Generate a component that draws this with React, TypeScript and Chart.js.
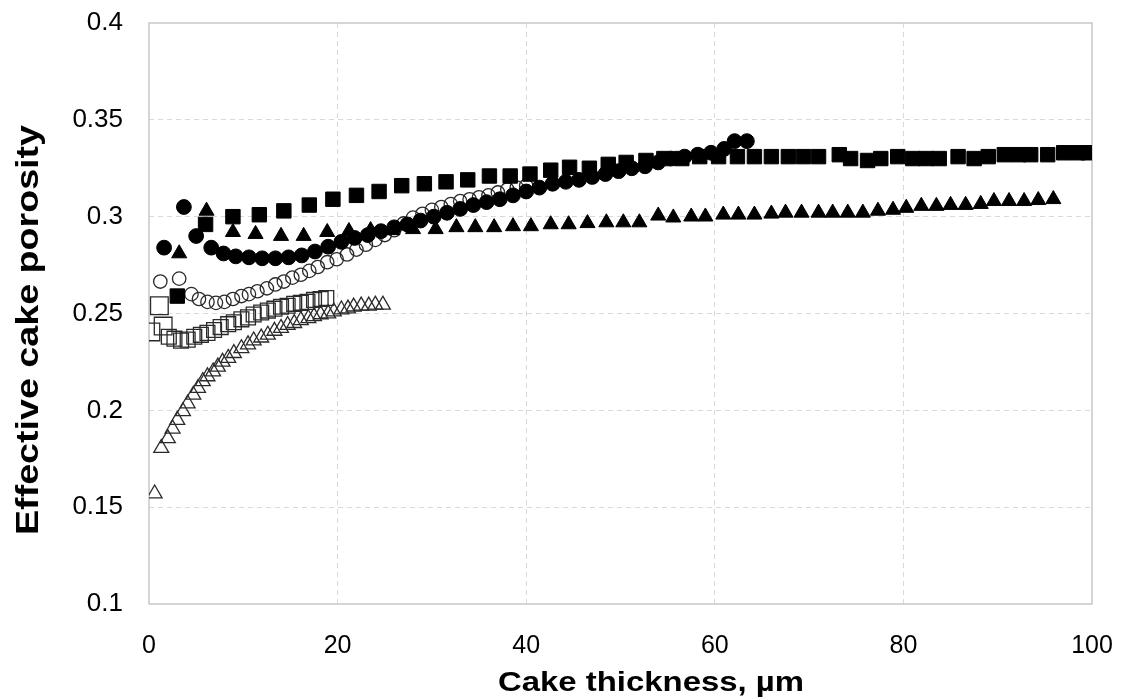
import React, { useEffect, useRef } from 'react';
import { Chart, registerables } from 'chart.js';

Chart.register(...registerables);

const xTitle = 'Cake thickness, µm';
const yTitle = 'Effective cake porosity';
const xTicks = [0, 20, 40, 60, 80, 100];
const yTicks = [0.1, 0.15, 0.2, 0.25, 0.3, 0.35, 0.4];

// Filled squares
const fsX = [3.0, 6.0, 8.9, 11.7, 14.3, 17.0, 19.5, 22.0, 24.4, 26.8, 29.2, 31.5, 33.8, 36.1, 38.3, 40.4, 42.6, 44.6, 46.7, 48.7, 50.6, 52.7, 54.6, 56.5, 58.4, 60.4, 62.4, 64.2, 66.0, 67.8, 69.4, 71.0, 73.2, 74.4, 76.2, 77.6, 79.4, 81.0, 82.4, 83.8, 85.8, 87.5, 89.0, 90.7, 92.2, 93.5, 95.3, 97.0, 98.5, 99.6];
const fsY = [0.259, 0.296, 0.300, 0.301, 0.303, 0.306, 0.309, 0.311, 0.313, 0.316, 0.317, 0.318, 0.319, 0.321, 0.321, 0.322, 0.324, 0.3255, 0.325, 0.327, 0.328, 0.329, 0.330, 0.330, 0.331, 0.331, 0.331, 0.331, 0.331, 0.331, 0.331, 0.331, 0.332, 0.330, 0.329, 0.330, 0.331, 0.330, 0.330, 0.330, 0.331, 0.330, 0.331, 0.332, 0.332, 0.332, 0.332, 0.333, 0.333, 0.333];

// Filled triangles
const ftX = [3.2, 6.1, 8.9, 11.3, 14.0, 16.4, 18.9, 21.2, 23.5, 25.8, 28.0, 30.4, 32.6, 34.6, 36.6, 38.6, 40.5, 42.6, 44.5, 46.5, 48.5, 50.3, 52.0, 54.0, 55.6, 57.5, 59.0, 60.9, 62.5, 64.2, 66.0, 67.5, 69.2, 71.0, 72.5, 74.1, 75.7, 77.3, 78.9, 80.3, 81.9, 83.5, 85.0, 86.6, 88.2, 89.6, 91.2, 92.8, 94.3, 95.9];
const ftY = [0.281, 0.303, 0.292, 0.291, 0.290, 0.290, 0.292, 0.2925, 0.293, 0.293, 0.2935, 0.2935, 0.2945, 0.2945, 0.2945, 0.295, 0.295, 0.296, 0.296, 0.2966, 0.297, 0.297, 0.297, 0.3005, 0.2995, 0.300, 0.300, 0.301, 0.301, 0.301, 0.3015, 0.302, 0.302, 0.302, 0.302, 0.302, 0.302, 0.303, 0.3035, 0.3045, 0.3055, 0.3055, 0.306, 0.306, 0.3065, 0.308, 0.308, 0.308, 0.3085, 0.309];

// Filled circles
const fcX = [1.6, 3.7, 5.0, 6.6, 7.9, 9.2, 10.6, 12.0, 13.4, 14.8, 16.2, 17.6, 19.0, 20.4, 21.8, 23.2, 24.6, 26.0, 27.4, 28.8, 30.2, 31.6, 33.0, 34.4, 35.8, 37.2, 38.6, 40.0, 41.4, 42.8, 44.2, 45.6, 47.0, 48.4, 49.8, 51.2, 52.6, 54.0, 55.4, 56.8, 58.2, 59.6, 61.0, 62.1, 63.4];
const fcY = [0.284, 0.305, 0.290, 0.284, 0.281, 0.2795, 0.279, 0.2785, 0.2785, 0.279, 0.280, 0.282, 0.2845, 0.287, 0.289, 0.2905, 0.2925, 0.2945, 0.296, 0.298, 0.300, 0.302, 0.304, 0.306, 0.3075, 0.309, 0.311, 0.313, 0.315, 0.317, 0.318, 0.319, 0.3205, 0.322, 0.3235, 0.325, 0.326, 0.328, 0.330, 0.331, 0.332, 0.333, 0.335, 0.339, 0.339];

// Open circles
const ocX = [1.2, 3.2, 4.5, 5.3, 6.2, 7.1, 8.0, 8.9, 9.8, 10.6, 11.5, 12.5, 13.4, 14.3, 15.2, 16.1, 17.0, 17.9, 18.9, 19.9, 21.0, 22.0, 23.0, 24.0, 25.0, 26.0, 27.0, 28.0, 29.0, 30.0, 31.0, 32.0, 33.0, 34.0, 35.0, 36.0, 37.0, 38.0, 39.0, 40.0];
const ocY = [0.2665, 0.268, 0.260, 0.2575, 0.256, 0.2555, 0.256, 0.2575, 0.259, 0.260, 0.2615, 0.263, 0.265, 0.2665, 0.2685, 0.270, 0.272, 0.274, 0.2765, 0.278, 0.2805, 0.283, 0.2855, 0.288, 0.2905, 0.293, 0.2965, 0.2995, 0.3015, 0.3035, 0.305, 0.3065, 0.308, 0.309, 0.310, 0.311, 0.3125, 0.314, 0.315, 0.316];

// Open squares
const osX = [0.2, 1.1, 1.5, 2.1, 2.7, 3.4, 4.1, 4.8, 5.5, 6.2, 6.9, 7.6, 8.4, 9.0, 9.8, 10.5, 11.1, 11.9, 12.6, 13.3, 14.0, 14.7, 15.4, 16.1, 16.8, 17.5, 18.2, 18.8];
const osY = [0.2405, 0.254, 0.2435, 0.238, 0.237, 0.236, 0.2365, 0.238, 0.239, 0.240, 0.2415, 0.243, 0.2445, 0.2455, 0.247, 0.248, 0.2495, 0.2505, 0.2515, 0.2525, 0.2535, 0.254, 0.255, 0.2555, 0.256, 0.257, 0.2575, 0.258];

// Open triangles
const otX = [0.6, 1.3, 2.0, 2.5, 3.0, 3.6, 4.1, 4.7, 5.2, 5.7, 6.2, 6.8, 7.3, 7.8, 8.4, 9.0, 9.8, 10.5, 11.1, 11.9, 12.6, 13.3, 14.0, 14.7, 15.4, 16.1, 16.9, 17.5, 18.2, 19.0, 19.6, 20.4, 21.1, 21.7, 22.5, 23.3, 24.0, 24.8];
const otY = [0.157, 0.1805, 0.1855, 0.1905, 0.195, 0.1995, 0.2035, 0.208, 0.2115, 0.215, 0.2175, 0.220, 0.2225, 0.225, 0.227, 0.2295, 0.232, 0.234, 0.236, 0.2375, 0.239, 0.241, 0.2425, 0.244, 0.245, 0.2465, 0.2475, 0.2485, 0.2495, 0.250, 0.251, 0.252, 0.2525, 0.2535, 0.254, 0.254, 0.2545, 0.2545];

const pts = (xs: number[], ys: number[]) => xs.map((x, i) => ({ x, y: ys[i] }));

const PLOT_LEFT = 149;
const PLOT_TOP = 23;
const PLOT_RIGHT_PAD = 34;
const X_AXIS_H = 96;

const framePlugin = {
  id: 'frame',
  beforeDatasetsDraw(chart: any) {
    const { ctx, chartArea: a } = chart;
    ctx.save();
    ctx.strokeStyle = '#c8c8c8';
    ctx.lineWidth = 1.5;
    ctx.strokeRect(a.left, a.top, a.right - a.left, a.bottom - a.top);
    ctx.restore();
  },
  afterDraw(chart: any) {
    const ctx = chart.ctx;
    ctx.save();
    ctx.fillStyle = '#000';
    ctx.textAlign = 'center';
    ctx.textBaseline = 'alphabetic';
    ctx.font = 'bold 28px "Liberation Sans", Arial, sans-serif';
    let w = ctx.measureText(xTitle).width;
    ctx.save();
    ctx.translate(651, 691);
    ctx.scale(306 / w, 1);
    ctx.fillText(xTitle, 0, 0);
    ctx.restore();
    ctx.font = 'bold 31px "Liberation Sans", Arial, sans-serif';
    w = ctx.measureText(yTitle).width;
    ctx.save();
    ctx.translate(38, 330);
    ctx.rotate(-Math.PI / 2);
    ctx.scale(410 / w, 1);
    ctx.fillText(yTitle, 0, 0);
    ctx.restore();
    ctx.restore();
  },
};

const edgeTransparent = (min: number, max: number) => (c: any) => {
  const v = c.tick ? c.tick.value : null;
  if (v === null) return '#d9d9d9';
  if (Math.abs(v - min) < 1e-9 || Math.abs(v - max) < 1e-9) return 'rgba(0,0,0,0)';
  return '#d9d9d9';
};

const zeroPad = (s: any) => {
  s.paddingTop = 0;
  s.paddingBottom = 0;
  s.paddingLeft = 0;
  s.paddingRight = 0;
};

export default function App() {
  const ref = useRef<HTMLCanvasElement | null>(null);
  useEffect(() => {
    if (!ref.current) return;
    const open = 'rgba(0,0,0,0)';
    const chart = new Chart(ref.current, {
      type: 'scatter',
      data: {
        datasets: [
          { label: 'fc', data: pts(fcX, fcY), pointStyle: 'circle', pointRadius: 7.4, backgroundColor: '#000', borderColor: '#000', borderWidth: 1 },
          { label: 'ft', data: pts(ftX, ftY), pointStyle: 'triangle', pointRadius: 8.7, backgroundColor: '#000', borderColor: '#000', borderWidth: 1 },
          { label: 'fs', data: pts(fsX, fsY), pointStyle: 'rect', pointRadius: 10.2, backgroundColor: '#000', borderColor: '#000', borderWidth: 1 },
          { label: 'oc', data: pts(ocX, ocY), pointStyle: 'circle', pointRadius: 6.7, backgroundColor: open, borderColor: '#2a2a2a', borderWidth: 1.3 },
          { label: 'os', data: pts(osX, osY), pointStyle: 'rect', pointRadius: (c: any) => (c.dataIndex < 3 ? 12.5 : 10.5), backgroundColor: open, borderColor: '#2a2a2a', borderWidth: 1.3 },
          { label: 'ot', data: pts(otX, otY), pointStyle: 'triangle', pointRadius: 8.6, backgroundColor: open, borderColor: '#2a2a2a', borderWidth: 1.3 },
        ] as any,
      },
      options: {
        animation: false,
        responsive: false,
        devicePixelRatio: 1,
        layout: { padding: { left: 0, top: PLOT_TOP, right: PLOT_RIGHT_PAD, bottom: 0 } },
        plugins: { legend: { display: false }, tooltip: { enabled: false } },
        elements: { point: { hoverRadius: 0 } },
        scales: {
          x: {
            type: 'linear',
            min: 0,
            max: 100,
            afterBuildTicks: (s: any) => { s.ticks = xTicks.map((v) => ({ value: v })); },
            afterFit: (s: any) => { s.height = X_AXIS_H; zeroPad(s); },
            ticks: {
              color: '#000',
              padding: 27,
              font: { family: '"Liberation Sans", Arial, sans-serif', size: 25 },
              callback: (v: any) => String(v),
            },
            grid: { color: edgeTransparent(0, 100), drawTicks: false, lineWidth: 1 },
            border: { display: false, dash: [5, 4] },
          },
          y: {
            type: 'linear',
            min: 0.1,
            max: 0.4,
            afterBuildTicks: (s: any) => { s.ticks = yTicks.map((v) => ({ value: v })); },
            afterFit: (s: any) => { s.width = PLOT_LEFT; zeroPad(s); },
            ticks: {
              color: '#000',
              padding: 26,
              font: { family: '"Liberation Sans", Arial, sans-serif', size: 26 },
              callback: (v: any) => String(Number(Number(v).toFixed(2))),
            },
            grid: { color: edgeTransparent(0.1, 0.4), drawTicks: false, lineWidth: 1 },
            border: { display: false, dash: [5, 4] },
          },
        },
      } as any,
      plugins: [framePlugin],
    });
    return () => chart.destroy();
  }, []);
  return (
    <div style={{ position: 'fixed', left: 0, top: 0, width: 1126, height: 700, background: '#fff' }}>
      <canvas ref={ref} width={1126} height={700} style={{ display: 'block' }} />
    </div>
  );
}
